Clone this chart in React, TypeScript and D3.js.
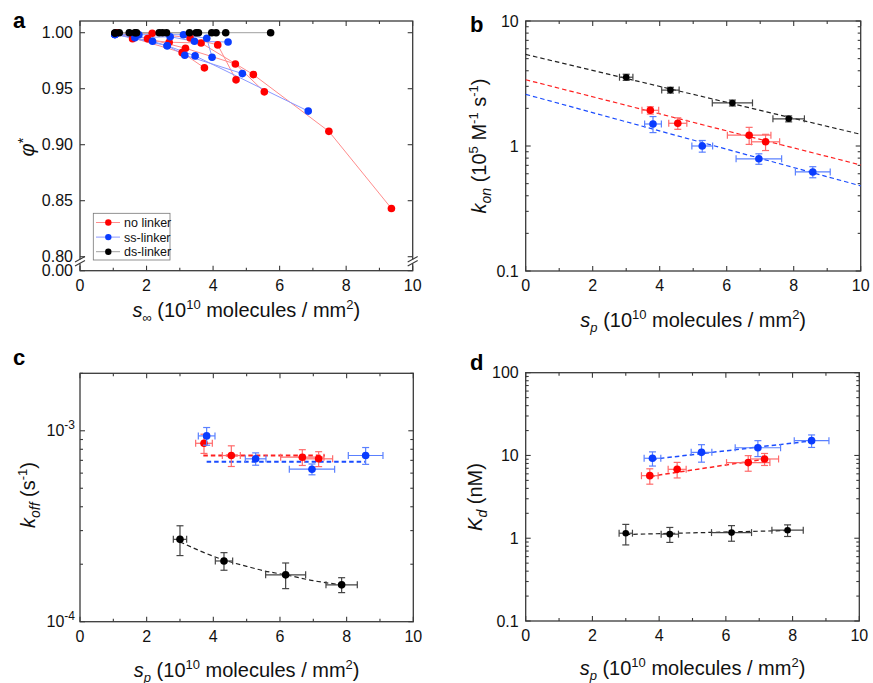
import React from "react";
import * as d3 from "d3";

const W = 873;
const H = 683;
const FONT = "Liberation Sans, Arial, sans-serif";
const AXIS = "#3a3a3a";

// ---- panel a: phi* vs s_inf, one run per array ----
const noLinkerRuns = [
  [[1.1, 0.9997], [2.17, 0.9995], [3.31, 0.9953], [4.14, 0.9891], [4.69, 0.9579]],
  [[1.1, 0.9997], [1.58, 0.9947], [2.68, 0.9915], [3.64, 0.9908], [5.21, 0.9626], [7.48, 0.9119], [9.36, 0.8431]],
  [[1.1, 0.9997], [2.03, 0.9947], [3.17, 0.9861], [4.67, 0.9721], [5.54, 0.9472]],
  [[1.1, 0.9997], [3.07, 0.9822], [3.74, 0.9686]],
];
const ssLinkerRuns = [
  [[1.05, 0.9985], [1.77, 0.9982], [3.11, 0.9982], [3.81, 0.995], [3.97, 0.9781]],
  [[1.05, 0.9985], [1.65, 0.9956], [2.71, 0.9964], [3.44, 0.9923], [4.45, 0.9917]],
  [[1.05, 0.9985], [2.18, 0.9923], [2.62, 0.9884], [3.15, 0.9799], [4.88, 0.9635]],
  [[1.05, 0.9985], [2.62, 0.9884], [3.46, 0.9793], [6.86, 0.93]],
];
const dsLinkerRuns = [
  [[1.05, 0.9997], [1.48, 1.0], [2.38, 1.0], [3.29, 1.0], [5.73, 1.0]],
  [[1.18, 1.0], [1.65, 1.0], [2.48, 1.0], [3.49, 1.0], [4.09, 1.0]],
  [[1.05, 0.9997], [1.7, 1.0], [2.6, 1.0], [3.56, 1.0], [3.96, 1.0], [4.38, 1.0]],
];
const phiTicks = [0.8, 0.85, 0.9, 0.95, 1.0];

// ---- panels b-d: surface densities s_p ----
const spNo = [3.72, 4.54, 6.67, 7.16];
const spNoErr = [0.25, 0.27, 0.65, 0.42];
const spSs = [3.8, 5.27, 6.96, 8.57];
const spSsErr = [0.25, 0.31, 0.68, 0.52];
const spDs = [3.0, 4.32, 6.17, 7.85];
const spDsErr = [0.2, 0.26, 0.6, 0.47];

const konNo = [1.93, 1.52, 1.22, 1.08];
const konNoErr = [0.13, 0.16, 0.19, 0.16];
const konSs = [1.5, 1.0, 0.79, 0.62];
const konSsErr = [0.22, 0.107, 0.076, 0.063];
const konDs = [3.55, 2.8, 2.21, 1.65];
const konDsErr = [0.2, 0.15, 0.12, 0.09];
const konFitNo = [[0, 3.39], [10, 0.705]];
const konFitSs = [[0, 2.59], [10, 0.48]];
const konFitDs = [[0, 5.4], [10, 1.24]];

const koffNo = [8.6e-4, 7.42e-4, 7.27e-4, 7.13e-4];
const koffNoErr = [0.99e-4, 0.92e-4, 0.69e-4, 0.64e-4];
const koffSs = [9.4e-4, 7.13e-4, 6.29e-4, 7.42e-4];
const koffSsErr = [1.0e-4, 0.53e-4, 0.41e-4, 0.75e-4];
const koffDs = [2.7e-4, 2.08e-4, 1.76e-4, 1.56e-4];
const koffDsErr = [0.48e-4, 0.22e-4, 0.27e-4, 0.14e-4];
const koffFitNo = [[3.7, 7.42e-4], [7.35, 7.42e-4]];
const koffFitSs = [[3.8, 6.88e-4], [8.55, 6.88e-4]];
const koffFitDs = [[3.0, 2.62e-4], [3.6, 2.35e-4], [4.33, 2.1e-4], [5.0, 1.95e-4], [5.5, 1.85e-4], [6.17, 1.76e-4], [7.0, 1.64e-4], [7.85, 1.56e-4]];

const kdNo = [5.7, 6.8, 8.2, 9.07];
const kdNoErr = [1.2, 1.45, 1.75, 1.5];
const kdSs = [9.25, 10.9, 12.4, 15.1];
const kdSsErr = [1.8, 2.6, 2.7, 2.6];
const kdDs = [1.15, 1.12, 1.17, 1.25];
const kdDsErr = [0.32, 0.23, 0.25, 0.2];
const kdFitNo = [[3.74, 5.6], [7.3, 9.2]];
const kdFitSs = [[3.8, 9.0], [8.57, 15.0]];
const kdFitDs = [[3.0, 1.11], [7.85, 1.24]];

const xMajor = [0, 2, 4, 6, 8, 10];
const xMinor = [1, 3, 5, 7, 9];

const COLORS = {
  no: { dot: "#ff0000", line: "#ff8c8c", err: "#ff6a6a", fit: "#ff2020" },
  ss: { dot: "#0a3cff", line: "#8a98ff", err: "#5a80ff", fit: "#1a4cff" },
  ds: { dot: "#000000", line: "#a0a0a0", err: "#444444", fit: "#222222" },
};

type Box = { l: number; r: number; t: number; b: number };

const boxA: Box = { l: 80, r: 412.7, t: 21, b: 270.7 };
const boxB: Box = { l: 525.7, r: 860.7, t: 21, b: 271 };
const boxC: Box = { l: 80, r: 413.3, t: 373.3, b: 621.7 };
const boxD: Box = { l: 525.7, r: 859.3, t: 372.7, b: 621 };

function Frame({ box, x, yPos, yMajorV, yMinorV, yLabel }: any) {
  const els: any[] = [];
  xMajor.forEach((v) => {
    const px = x(v);
    els.push(<line key={"xb" + v} x1={px} x2={px} y1={box.b} y2={box.b - 5} />);
    els.push(<line key={"xt" + v} x1={px} x2={px} y1={box.t} y2={box.t + 5} />);
  });
  xMinor.forEach((v) => {
    const px = x(v);
    els.push(<line key={"xbm" + v} x1={px} x2={px} y1={box.b} y2={box.b - 3} />);
    els.push(<line key={"xtm" + v} x1={px} x2={px} y1={box.t} y2={box.t + 3} />);
  });
  yMajorV.forEach((v: number, i: number) => {
    const py = yPos(v);
    els.push(<line key={"yl" + i} x1={box.l} x2={box.l + 5} y1={py} y2={py} />);
    els.push(<line key={"yr" + i} x1={box.r} x2={box.r - 5} y1={py} y2={py} />);
  });
  yMinorV.forEach((v: number, i: number) => {
    const py = yPos(v);
    els.push(<line key={"ylm" + i} x1={box.l} x2={box.l + 3} y1={py} y2={py} />);
    els.push(<line key={"yrm" + i} x1={box.r} x2={box.r - 3} y1={py} y2={py} />);
  });
  return (
    <g>
      <rect x={box.l} y={box.t} width={box.r - box.l} height={box.b - box.t} fill="none" stroke={AXIS} strokeWidth={1.3} />
      <g stroke={AXIS} strokeWidth={1.1}>{els}</g>
      <g fontSize={16} fill="#111" fontFamily={FONT}>
        {xMajor.map((v) => (
          <text key={"xl" + v} x={x(v)} y={box.b + 20} textAnchor="middle">{v}</text>
        ))}
        {yMajorV.map((v: number, i: number) => (
          <g key={"ylab" + i}>{yLabel(v, box.l - 7, yPos(v) + 5.5)}</g>
        ))}
      </g>
    </g>
  );
}

function ErrPoints({ x, y, xs, xe, ys, ye, c, r = 3.8 }: any) {
  return (
    <g>
      {xs.map((xv: number, i: number) => {
        const px = x(xv);
        const py = y(ys[i]);
        const x0 = x(xv - xe[i]);
        const x1 = x(xv + xe[i]);
        const y0 = y(ys[i] - ye[i]);
        const y1 = y(ys[i] + ye[i]);
        return (
          <g key={i} stroke={c.err} strokeWidth={1.2} fill="none">
            <line x1={x0} x2={x1} y1={py} y2={py} />
            <line x1={x0} x2={x0} y1={py - 3.5} y2={py + 3.5} />
            <line x1={x1} x2={x1} y1={py - 3.5} y2={py + 3.5} />
            <line x1={px} x2={px} y1={y0} y2={y1} />
            <line x1={px - 3.5} x2={px + 3.5} y1={y0} y2={y0} />
            <line x1={px - 3.5} x2={px + 3.5} y1={y1} y2={y1} />
          </g>
        );
      })}
      {xs.map((xv: number, i: number) => (
        <circle key={"d" + i} cx={x(xv)} cy={y(ys[i])} r={r} fill={c.dot} />
      ))}
    </g>
  );
}

function Fit({ x, y, pts, c, w = 1.5 }: any) {
  const gen = d3
    .line<number[]>()
    .x((d) => x(d[0]))
    .y((d) => y(d[1]))
    .curve(pts.length > 2 ? d3.curveMonotoneX : d3.curveLinear);
  return <path d={gen(pts) || ""} fill="none" stroke={c.fit} strokeWidth={w} strokeDasharray="4.5,3" />;
}

function SpTitle({ cx, y }: any) {
  return (
    <text x={cx} y={y} textAnchor="middle" fontSize={20} fontFamily={FONT} fill="#111">
      <tspan fontStyle="italic">s</tspan>
      <tspan fontSize={13} fontStyle="italic" dy={5}>p</tspan>
      <tspan dy={-5}> (10</tspan>
      <tspan fontSize={13} dy={-8}>10</tspan>
      <tspan dy={8}> molecules / mm</tspan>
      <tspan fontSize={13} dy={-8}>2</tspan>
      <tspan dy={8}>)</tspan>
    </text>
  );
}

const plainLabel = (fmt: (v: number) => string) => (v: number, x: number, y: number) => (
  <text x={x} y={y} textAnchor="end">{fmt(v)}</text>
);

export default function App() {
  // panel a scales
  const xA = d3.scaleLinear().domain([0, 10]).range([boxA.l, boxA.r]);
  const yA = d3.scaleLinear().domain([0.8, 1.0]).range([256.7, 32.7]);
  const lineA = d3
    .line<number[]>()
    .x((d) => xA(d[0]))
    .y((d) => yA(d[1]));

  const xB = d3.scaleLinear().domain([0, 10]).range([boxB.l, boxB.r]);
  const yB = d3.scaleLog().domain([0.1, 10]).range([boxB.b, boxB.t]);
  const xC = d3.scaleLinear().domain([0, 10]).range([boxC.l, boxC.r]);
  const yC = d3.scaleLog().domain([1e-4, 2e-3]).range([boxC.b, boxC.t]);
  const xD = d3.scaleLinear().domain([0, 10]).range([boxD.l, boxD.r]);
  const yD = d3.scaleLog().domain([0.1, 100]).range([boxD.b, boxD.t]);

  const logMinor = (s: any, majors: number[]) =>
    s.ticks().filter((t: number) => !majors.some((m) => Math.abs(t - m) / m < 1e-6));

  const bMajor = [0.1, 1, 10];
  const cMajor = [1e-4, 1e-3];
  const dMajor = [0.1, 1, 10, 100];

  const runsA = [
    { runs: noLinkerRuns, c: COLORS.no },
    { runs: ssLinkerRuns, c: COLORS.ss },
    { runs: dsLinkerRuns, c: COLORS.ds },
  ];

  const legend = [
    { label: "no linker", c: COLORS.no },
    { label: "ss-linker", c: COLORS.ss },
    { label: "ds-linker", c: COLORS.ds },
  ];

  const breakMark = (bx: number) => (
    <g>
      <rect x={bx - 5} y={259.5} width={10} height={4} fill="#fff" />
      <line x1={bx - 5} x2={bx + 5} y1={262} y2={256.5} stroke={AXIS} strokeWidth={1.1} />
      <line x1={bx - 5} x2={bx + 5} y1={266} y2={260.5} stroke={AXIS} strokeWidth={1.1} />
    </g>
  );

  return (
    <svg width={W} height={H} style={{ position: "absolute", left: 0, top: 0, background: "#fff" }} fontFamily={FONT}>
      {/* ---------------- panel a ---------------- */}
      <Frame
        box={boxA}
        x={xA}
        yPos={(v: number) => (v === 0 ? boxA.b : yA(v))}
        yMajorV={[...phiTicks, 0]}
        yMinorV={[]}
        yLabel={plainLabel((v) => d3.format(".2f")(v))}
      />
      {breakMark(boxA.l)}
      {breakMark(boxA.r)}
      {runsA.map((g, gi) => (
        <g key={gi}>
          {g.runs.map((run, ri) => (
            <path key={ri} d={lineA(run as any) || ""} fill="none" stroke={g.c.line} strokeWidth={1} />
          ))}
        </g>
      ))}
      {runsA.map((g, gi) => (
        <g key={"p" + gi}>
          {g.runs.map((run, ri) =>
            run.map((d, i) => <circle key={ri + "-" + i} cx={xA(d[0])} cy={yA(d[1])} r={3.8} fill={g.c.dot} />)
          )}
        </g>
      ))}
      <g>
        <rect x={93.3} y={213.3} width={76.7} height={46.7} fill="#fff" stroke="#777" strokeWidth={0.8} />
        {legend.map((e, i) => {
          const ly = 222.5 + i * 14.6;
          return (
            <g key={e.label}>
              <line x1={96} x2={120} y1={ly} y2={ly} stroke={e.c.line} strokeWidth={1} />
              <circle cx={108.3} cy={ly} r={3.2} fill={e.c.dot} />
              <text x={124} y={ly + 4.5} fontSize={12.5} fill="#111">{e.label}</text>
            </g>
          );
        })}
      </g>
      <text x={246.3} y={317} textAnchor="middle" fontSize={20} fill="#111">
        <tspan fontStyle="italic">s</tspan>
        <tspan fontSize={13} dy={5}>∞</tspan>
        <tspan dy={-5}> (10</tspan>
        <tspan fontSize={13} dy={-8}>10</tspan>
        <tspan dy={8}> molecules / mm</tspan>
        <tspan fontSize={13} dy={-8}>2</tspan>
        <tspan dy={8}>)</tspan>
      </text>
      <text transform="translate(34,147) rotate(-90)" textAnchor="middle" fontSize={20} fill="#111">
        <tspan fontStyle="italic">φ</tspan>
        <tspan dy={-6} fontSize={15}>*</tspan>
      </text>
      <text x={13} y={28} fontSize={22} fontWeight="bold" fill="#000">a</text>

      {/* ---------------- panel b ---------------- */}
      <Frame box={boxB} x={xB} yPos={yB} yMajorV={bMajor} yMinorV={logMinor(yB, bMajor)} yLabel={plainLabel((v) => String(v))} />
      <Fit x={xB} y={yB} pts={konFitDs} c={COLORS.ds} w={1.2} />
      <Fit x={xB} y={yB} pts={konFitNo} c={COLORS.no} w={1.2} />
      <Fit x={xB} y={yB} pts={konFitSs} c={COLORS.ss} w={1.2} />
      <ErrPoints x={xB} y={yB} xs={spDs} xe={spDsErr} ys={konDs} ye={konDsErr} c={COLORS.ds} r={3.3} />
      <ErrPoints x={xB} y={yB} xs={spNo} xe={spNoErr} ys={konNo} ye={konNoErr} c={COLORS.no} />
      <ErrPoints x={xB} y={yB} xs={spSs} xe={spSsErr} ys={konSs} ye={konSsErr} c={COLORS.ss} />
      <SpTitle cx={(boxB.l + boxB.r) / 2} y={327} />
      <text transform="translate(486,146) rotate(-90)" textAnchor="middle" fontSize={20} fill="#111">
        <tspan fontStyle="italic">k</tspan>
        <tspan fontStyle="italic" fontSize={14} dy={5}>on</tspan>
        <tspan dy={-5}> (10</tspan>
        <tspan fontSize={13} dy={-8}>5</tspan>
        <tspan dy={8}> M</tspan>
        <tspan fontSize={13} dy={-8}>-1</tspan>
        <tspan dy={8}> s</tspan>
        <tspan fontSize={13} dy={-8}>-1</tspan>
        <tspan dy={8}>)</tspan>
      </text>
      <text x={470} y={32} fontSize={22} fontWeight="bold" fill="#000">b</text>

      {/* ---------------- panel c ---------------- */}
      <Frame
        box={boxC}
        x={xC}
        yPos={yC}
        yMajorV={cMajor}
        yMinorV={logMinor(yC, cMajor)}
        yLabel={(v: number, x: number, y: number) => (
          <text x={x + 2} y={y} textAnchor="end">
            10<tspan fontSize={12} dy={-7}>{v === 1e-3 ? "-3" : "-4"}</tspan>
          </text>
        )}
      />
      <Fit x={xC} y={yC} pts={koffFitNo} c={COLORS.no} w={2} />
      <Fit x={xC} y={yC} pts={koffFitSs} c={COLORS.ss} w={2} />
      <Fit x={xC} y={yC} pts={koffFitDs} c={COLORS.ds} w={1.2} />
      <ErrPoints x={xC} y={yC} xs={spDs} xe={spDsErr} ys={koffDs} ye={koffDsErr} c={COLORS.ds} />
      <ErrPoints x={xC} y={yC} xs={spNo} xe={spNoErr} ys={koffNo} ye={koffNoErr} c={COLORS.no} />
      <ErrPoints x={xC} y={yC} xs={spSs} xe={spSsErr} ys={koffSs} ye={koffSsErr} c={COLORS.ss} />
      <SpTitle cx={(boxC.l + boxC.r) / 2} y={677} />
      <text transform="translate(35,495) rotate(-90)" textAnchor="middle" fontSize={20} fill="#111">
        <tspan fontStyle="italic">k</tspan>
        <tspan fontStyle="italic" fontSize={14} dy={5}>off</tspan>
        <tspan dy={-5}> (s</tspan>
        <tspan fontSize={13} dy={-8}>-1</tspan>
        <tspan dy={8}>)</tspan>
      </text>
      <text x={13} y={365} fontSize={22} fontWeight="bold" fill="#000">c</text>

      {/* ---------------- panel d ---------------- */}
      <Frame box={boxD} x={xD} yPos={yD} yMajorV={dMajor} yMinorV={logMinor(yD, dMajor)} yLabel={plainLabel((v) => String(v))} />
      <Fit x={xD} y={yD} pts={kdFitSs} c={COLORS.ss} w={1.5} />
      <Fit x={xD} y={yD} pts={kdFitNo} c={COLORS.no} w={1.5} />
      <Fit x={xD} y={yD} pts={kdFitDs} c={COLORS.ds} w={1.2} />
      <ErrPoints x={xD} y={yD} xs={spDs} xe={spDsErr} ys={kdDs} ye={kdDsErr} c={COLORS.ds} r={3.3} />
      <ErrPoints x={xD} y={yD} xs={spNo} xe={spNoErr} ys={kdNo} ye={kdNoErr} c={COLORS.no} />
      <ErrPoints x={xD} y={yD} xs={spSs} xe={spSsErr} ys={kdSs} ye={kdSsErr} c={COLORS.ss} />
      <SpTitle cx={(boxD.l + boxD.r) / 2} y={675} />
      <text transform="translate(482,497) rotate(-90)" textAnchor="middle" fontSize={20} fill="#111">
        <tspan fontStyle="italic">K</tspan>
        <tspan fontStyle="italic" fontSize={14} dy={5}>d</tspan>
        <tspan dy={-5}> (nM)</tspan>
      </text>
      <text x={470} y={370} fontSize={22} fontWeight="bold" fill="#000">d</text>
    </svg>
  );
}
